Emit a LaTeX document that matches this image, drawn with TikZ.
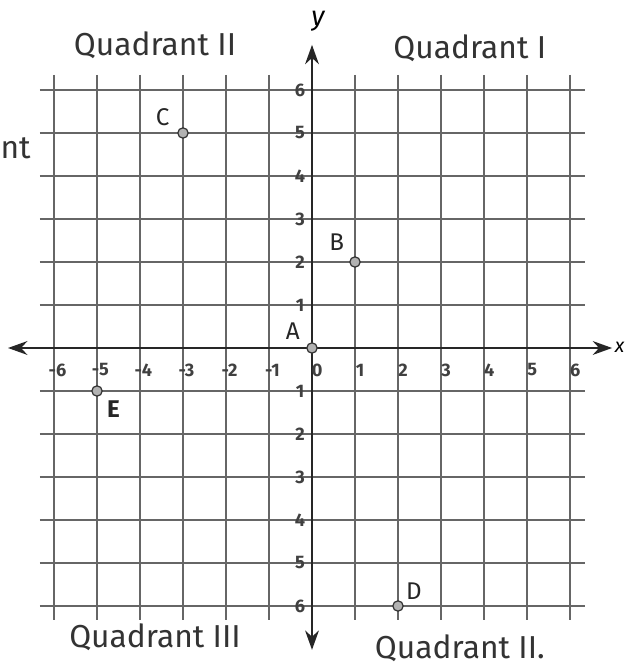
\documentclass[tikz,border=0pt]{standalone}
\usepackage{fontspec}
\setmainfont{Fira Sans}
\usetikzlibrary{positioning,arrows.meta}

\begin{document}
\begin{tikzpicture}[x=1cm, y=1cm,
    gridline/.style={draw=black!60, line width=1.1pt},
    axis/.style={draw=black!85, line width=1.6pt, {Stealth[length=4.5mm,width=3.2mm]}-{Stealth[length=4.5mm,width=3.2mm]}},
    pt/.style={draw=black!80, circle, fill=black!30, inner sep=0pt, minimum size=2.4mm, line width=0.8pt},
    ptname/.style={font=\fontsize{16}{16}\selectfont, text=black!85, inner sep=1pt},
    quad/.style={font=\fontsize{21}{21}\selectfont, text=black!80, inner sep=1pt},
    tick/.style={font=\fontsize{12}{12}\selectfont\bfseries, text=black!75, inner sep=0pt}]
  \fill[white] (-7.256,-7.442) rectangle (7.302,8.093);
  \useasboundingbox (-7.256,-7.442) rectangle (7.302,8.093);
  % grid
  \foreach \k in {-6,...,6} {
    \draw[gridline] (-6.33,\k) -- (6.35,\k);
    \draw[gridline] (\k,6.35) -- (\k,-6.33);
  }
  % axes
  \coordinate (xl) at (-7.07,0);
  \coordinate (xr) at (6.98,0);
  \coordinate (yt) at (0,7.05);
  \coordinate (yb) at (0,-7.02);
  \draw[axis] (xl) -- (xr);
  \draw[axis] (yb) -- (yt);
  \node[font=\fontsize{18}{18}\selectfont\itshape] (ylab) at (0.14,7.6) {y};
  \node[font=\fontsize{13}{13}\selectfont\itshape, anchor=east, inner sep=0.5pt] (xlab) at (7.29,0.02) {x};
  % tick labels
  \foreach \k in {-6,...,-1}
    \node[tick] at (\k+0.08,-0.51) {\k};
  \foreach \k in {0,...,6} {
    \node[tick] at (\k+0.12,-0.51) {\k};
  }
  \foreach \k in {1,...,6} {
    \node[tick] at (-0.28,\k) {\k};
    \node[tick] at (-0.28,-\k) {\k};
  }
  % points
  \node[pt] (A) at (0,0) {};
  \node[pt] (B) at (1,2) {};
  \node[pt] (C) at (-3,5) {};
  \node[pt] (D) at (2,-6) {};
  \node[pt] (E) at (-5,-1) {};
  \node[ptname, above left=0.05cm and 0.15cm of A] (Alab) {A};
  \node[ptname, above left=0.12cm and 0.12cm of B] (Blab) {B};
  \node[ptname, above left=0.02cm and 0.18cm of C] (Clab) {C};
  \node[ptname, above right=0.02cm and 0.05cm of D] (Dlab) {D};
  \node[ptname, below right=0.1cm and 0.1cm of E, font=\fontsize{16}{16}\selectfont\bfseries] (Elab) {E};
  % quadrants
  \node[quad] (q2) at (-3.65,7.05) {Quadrant II};
  \node[quad] (q1) at (3.67,6.98) {Quadrant I};
  \node[quad] (q3) at (-3.65,-6.72) {Quadrant III};
  \node[quad] (q4) at (3.44,-6.98) {Quadrant II.};
  \node[quad, anchor=west, inner sep=0pt] (frag) at (-7.25,4.65) {nt};
\end{tikzpicture}
\end{document}
